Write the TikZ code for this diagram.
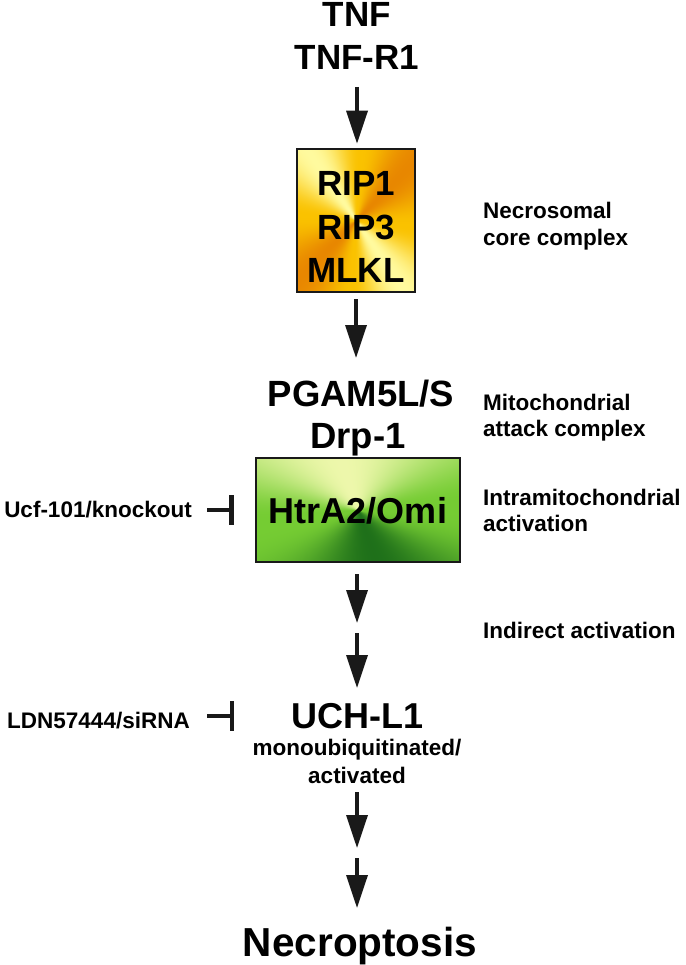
\documentclass[tikz,border=0pt]{standalone}
\usepackage{fontspec}
\setmainfont{Liberation Sans}
\usetikzlibrary{arrows.meta}
\pgfdeclarefunctionalshading{yelcone}{\pgfpoint{-50bp}{-50bp}}{\pgfpoint{50bp}{50bp}}{}{
 exch 0.001 add atan 130 sub 2 mul cos
 dup abs
 2 copy add 2 div dup mul
 3 1 roll
 exch sub 2 div dup mul
 2 copy -0.07 mul exch 0.02 mul add 0.98 add
 3 1 roll
 2 copy -0.23 mul exch 0.22 mul add 0.76 add
 3 1 roll
 0.0 mul exch 0.62 mul add 0.0 add
}
\pgfdeclarefunctionalshading{grncone}{\pgfpoint{-50bp}{-50bp}}{\pgfpoint{50bp}{50bp}}{}{
 exch 0.001 add atan 100 sub cos
 dup abs
 2 copy add 2 div dup mul
 3 1 roll
 exch sub 2 div dup mul dup mul
 2 copy -0.34 mul exch 0.47 mul add 0.46 add
 3 1 roll
 2 copy -0.36 mul exch 0.17 mul add 0.80 add
 3 1 roll
 -0.10 mul exch 0.47 mul add 0.20 add
}
\begin{document}
\begin{tikzpicture}[x=1pt,y=-1pt,
  bigtxt/.style={font=\fontsize{35.5}{40}\selectfont\bfseries, inner sep=0pt, anchor=base},
  smalltxt/.style={font=\fontsize{22.5}{27}\selectfont\bfseries, inner sep=0pt, anchor=base west},
  lefttxt/.style={font=\fontsize{22.5}{27}\selectfont\bfseries, inner sep=0pt, anchor=base east},
  arr/.style={line width=3.5pt, draw=black!90, -{Triangle[width=21pt,length=33pt]}},
  inh/.style={line width=3.8pt, draw=black!90, -{Rectangle[width=30pt,length=4.5pt]}},
  boxstyle/.style={draw=black!90, line width=2.5pt, inner sep=0pt, shade}]
\useasboundingbox (0,0) rectangle (685,965);
% top
\node[bigtxt, font=\fontsize{35}{40}\selectfont\bfseries] (tnf) at (357,27) {TNF};
\node[bigtxt, font=\fontsize{35}{40}\selectfont\bfseries] (tnfr) at (357,70) {TNF-R1};
% necrosomal box
\node[boxstyle, shading=yelcone, minimum width=118pt, minimum height=143pt] (rip) at (356,220.5) {};
\node[bigtxt, font=\fontsize{35}{40}\selectfont\bfseries] (rip1) at (356,196) {RIP1};
\node[bigtxt, font=\fontsize{35}{40}\selectfont\bfseries] (rip3) at (356,240) {RIP3};
\node[bigtxt, font=\fontsize{35}{40}\selectfont\bfseries] (mlkl) at (356,283) {MLKL};
% mitochondrial
\node[bigtxt, font=\fontsize{36.5}{40}\selectfont\bfseries] (pgam) at (361,406) {PGAM5L/S};
\node[bigtxt, font=\fontsize{36.5}{40}\selectfont\bfseries] (drp) at (358,448) {Drp-1};
\node[boxstyle, shading=grncone, minimum width=204pt, minimum height=104pt] (htra) at (358,510) {};
\node[bigtxt, font=\fontsize{36}{40}\selectfont\bfseries] (htrtxt) at (358,523) {HtrA2/Omi};
% UCH-L1
\node[bigtxt, font=\fontsize{36}{40}\selectfont\bfseries] (uch) at (357.5,728) {UCH-L1};
\node[bigtxt, font=\fontsize{22.5}{27}\selectfont\bfseries] (mono) at (357,755) {monoubiquitinated/};
\node[bigtxt, font=\fontsize{22.5}{27}\selectfont\bfseries] (activ) at (357,783) {activated};
\node[bigtxt, font=\fontsize{40.5}{44}\selectfont\bfseries] (necro) at (360,956) {Necroptosis};
% right labels
\node[smalltxt] (nec1) at (483,219) {Necrosomal};
\node[smalltxt] (nec2) at (483,246) {core complex};
\node[smalltxt] (mit1) at (483,410) {Mitochondrial};
\node[smalltxt] (mit2) at (483,436) {attack complex};
\node[smalltxt] (int1) at (483,505) {Intramitochondrial};
\node[smalltxt] (int2) at (483,531) {activation};
\node[smalltxt] (indir) at (483,638) {Indirect activation};
% left labels
\node[lefttxt] (ucf) at (192,517) {Ucf-101/knockout};
\node[lefttxt] (ldn) at (190,728) {LDN57444/siRNA};
% waypoints
\coordinate (m1) at (357,628);
\coordinate (m2) at (357,853);
% arrows
\draw[arr] ([yshift=-17pt]tnfr.base) -- ([yshift=4pt]tnfr.base |- rip.north);
\draw[arr] ([yshift=-6pt]rip.south) -- ([yshift=48pt]rip.south |- pgam.base);
\draw[arr] ([yshift=-11pt]htra.south -| m1) -- ([yshift=5pt]m1);
\draw[arr] ([yshift=-5pt]m1) -- ([yshift=40pt]m1 |- uch.base);
\draw[arr] ([yshift=-9pt]activ.base) -- ([yshift=5pt]m2);
\draw[arr] ([yshift=-5pt]m2) -- ([yshift=48pt]m2 |- necro.base);
% inhibitors
\draw[inh] ([xshift=15pt]ucf.base east |- htra.west) -- ([xshift=-21pt]htra.west);
\draw[inh] ([xshift=17pt]ldn.base east |- uch.west) -- ([xshift=-57pt]uch.west);
\end{tikzpicture}
\end{document}
